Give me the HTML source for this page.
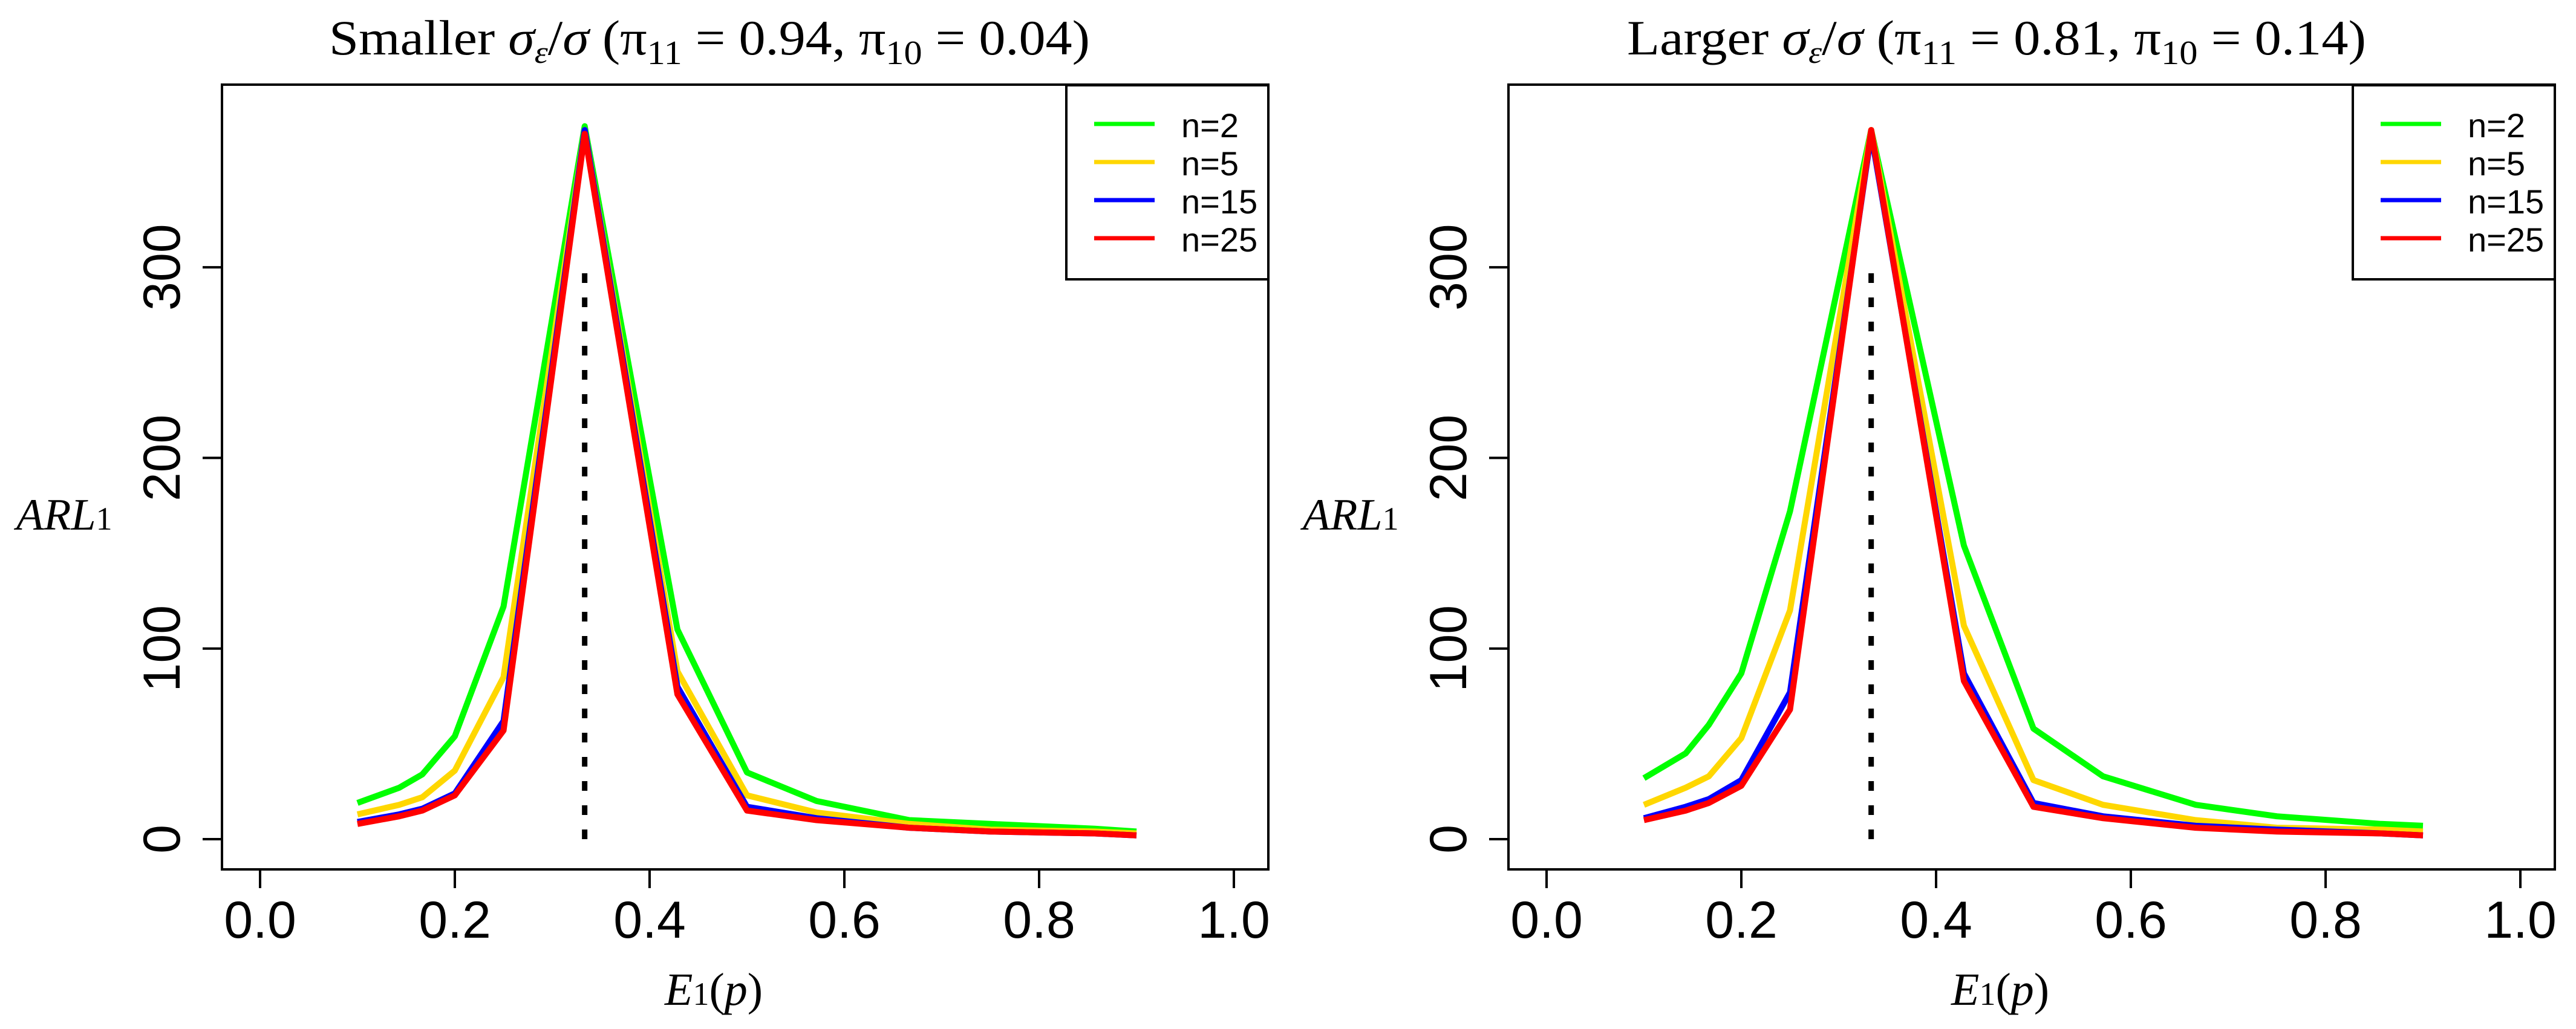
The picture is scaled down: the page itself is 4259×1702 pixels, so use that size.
<!DOCTYPE html>
<html><head><meta charset="utf-8"><style>
html,body{margin:0;padding:0;background:#fff;}
svg{display:block;}
text{font-family:"Liberation Sans",sans-serif;}
.serif{font-family:"Liberation Serif",serif;}
</style></head><body>
<svg id="chart" width="4259" height="1702" viewBox="0 0 4259 1702" xmlns="http://www.w3.org/2000/svg"></svg>
<script>
const pValues = [0.1, 1/7, 1/6, 0.2, 0.25, 1/3, 3/7, 0.5, 4/7, 2/3, 0.75, 6/7, 0.9];
const seriesNames = ["n=2", "n=5", "n=15", "n=25"];
const seriesColors = ["#00ff00", "#ffd700", "#0000ff", "#ff0000"];
const leftN2 = [19, 27, 34, 54, 122, 374, 110, 35, 20, 10, 8, 5.5, 4];
const leftN5 = [13, 18, 22, 36, 85, 372, 88, 23, 14, 8, 5, 4, 3];
const leftN15 = [9, 13, 16, 24, 62, 372, 80, 17, 11, 6, 4, 3, 2];
const leftN25 = [8, 12, 15, 23, 57, 370, 76, 15, 10, 6, 4, 3, 2];
const rightN2 = [32, 45, 60, 87, 172, 372, 154, 58, 33, 18, 12, 8, 7];
const rightN5 = [18, 27, 33, 53, 120, 372, 112, 31, 18, 10, 6, 5, 4];
const rightN15 = [11, 17, 21, 31, 77, 370, 87, 19, 12, 7, 5, 3, 2];
const rightN25 = [10, 15, 19, 28, 68, 372, 83, 17, 11, 6, 4, 3, 2];
const xTicks = [0, 0.2, 0.4, 0.6, 0.8, 1.0];
const xTickLabels = ["0.0", "0.2", "0.4", "0.6", "0.8", "1.0"];
const yTicks = [0, 100, 200, 300];
const vlineX = 1/3;
const vlineTop = 300;

const NS = "http://www.w3.org/2000/svg";
const svg = document.getElementById('chart');
function mk(tag, attrs, parent){
  const e = document.createElementNS(NS, tag);
  for (const k in attrs) e.setAttribute(k, attrs[k]);
  (parent||svg).appendChild(e);
  return e;
}

const panels = [
  {off:0, series:[leftN2,leftN5,leftN15,leftN25], pre:"Smaller", a:"0.94", b:"0.04", name:"left"},
  {off:2127, series:[rightN2,rightN5,rightN15,rightN25], pre:"Larger", a:"0.81", b:"0.14", name:"right"}
];

panels.forEach(P => {
  const o = P.off;
  const g = mk('g', {});
  
  
  const xs = v => o + 430 + 1610 * v;
  const ys = v => 1388 - 3.153 * v;

  const t = mk('text', {x: o + (P.name==='left'?544:563), y: 90, 'font-size': 82, class: 'serif', textLength: (P.name==='left'?1258:1222), lengthAdjust: 'spacingAndGlyphs'}, g);
  
  
  t.innerHTML = P.pre + '  <tspan font-style="italic">σ</tspan><tspan font-style="italic" font-size="52" dy="14">ε</tspan><tspan dy="-14">/</tspan><tspan font-style="italic">σ</tspan>  (π<tspan font-size="56" dy="16">11</tspan><tspan dy="-16">  = ' + P.a + ',  π</tspan><tspan font-size="56" dy="16">10</tspan><tspan dy="-16">  = ' + P.b + ')</tspan>';

  P.series.forEach((vals, si) => {
    const pts = vals.map((v, i) => xs(pValues[i]).toFixed(1) + ',' + ys(v).toFixed(1)).join(' ');
    const pl = mk('polyline', {points: pts, fill: 'none', stroke: seriesColors[si], 'stroke-width': 10, 'stroke-linejoin': 'round'}, g);
    
    
  });

  const vl = mk('line', {x1: xs(vlineX), x2: xs(vlineX), y1: ys(0), y2: ys(vlineTop), stroke: '#000', 'stroke-width': 9, 'stroke-dasharray': '16 24'}, g);
  
  

  const box = mk('rect', {x: o + 367, y: 140, width: 1730, height: 1298, fill: 'none', stroke: '#000', 'stroke-width': 4}, g);
  
  

  xTicks.forEach((v, i) => {
    const tk = mk('line', {x1: xs(v), x2: xs(v), y1: 1438, y2: 1469, stroke: '#000', 'stroke-width': 4}, g);
    
    
    const tl = mk('text', {x: xs(v), y: 1551, 'font-size': 86, 'text-anchor': 'middle'}, g);
    
    
    tl.textContent = xTickLabels[i];
  });
  yTicks.forEach(v => {
    const tk = mk('line', {x1: o + 335, x2: o + 367, y1: ys(v), y2: ys(v), stroke: '#000', 'stroke-width': 4}, g);
    
    
    const tl = mk('text', {x: 0, y: 0, 'font-size': 86, 'text-anchor': 'middle', transform: 'translate(' + (o + 297) + ',' + ys(v) + ') rotate(-90)'}, g);
    
    
    tl.textContent = String(v);
  });

  const yt = mk('text', {x: o + 27, y: 876, 'font-size': 74, class: 'serif', 'font-style': 'italic'}, g);
  
  
  yt.innerHTML = 'ARL<tspan font-style="normal" font-size="54">1</tspan>';
  const xt = mk('text', {x: o + 1099, y: 1662, 'font-size': 76, class: 'serif', 'font-style': 'italic'}, g);
  
  
  xt.innerHTML = 'E<tspan font-style="normal" font-size="54">1</tspan><tspan font-style="normal">(</tspan>p<tspan font-style="normal">)</tspan>';

  const lg = mk('g', {}, g);
  
  
  const lb = mk('rect', {x: o + 1763, y: 141, width: 334, height: 321, fill: '#fff', stroke: '#000', 'stroke-width': 4}, lg);
  
  
  seriesNames.forEach((nm, si) => {
    const yy = 205 + 63 * si;
    const ll = mk('line', {x1: o + 1809, x2: o + 1909, y1: yy, y2: yy, stroke: seriesColors[si], 'stroke-width': 7}, lg);
    
    
    const lt = mk('text', {x: o + 1953, y: yy + 22, 'font-size': 56}, lg);
    
    
    lt.textContent = nm;
  });
});
</script>
</body></html>
